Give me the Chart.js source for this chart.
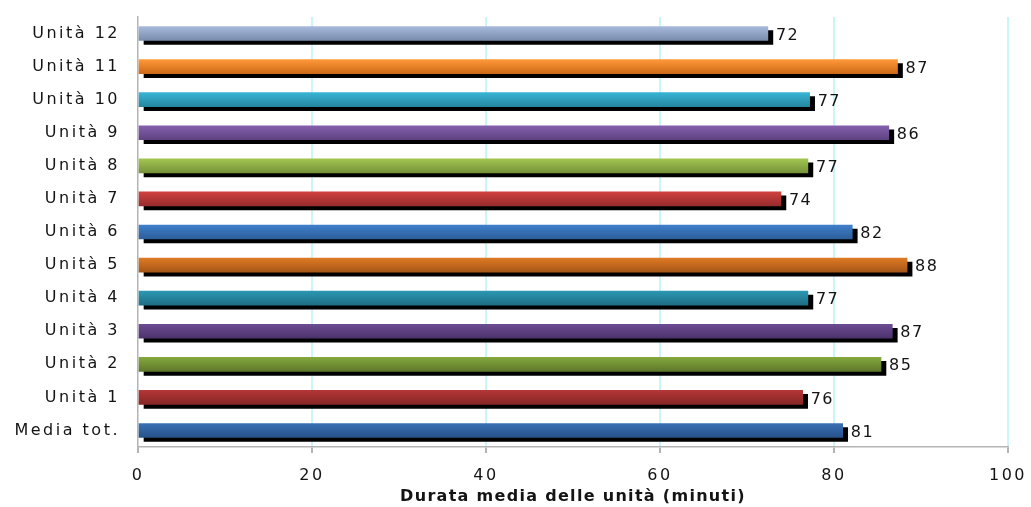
<!DOCTYPE html>
<html>
<head>
<meta charset="utf-8">
<title>Durata media delle unità</title>
<script src="https://cdn.jsdelivr.net/npm/chart.js@4.4.1/dist/chart.umd.min.js"></script>
<style>
  html, body { margin: 0; padding: 0; background: #fff; }
  canvas { display: block; }
</style>
</head>
<body>
<canvas id="mycanvas_durata" width="1031" height="507"></canvas>
<script>
// categories, bottom to top
var categorie = ['Media tot.', 'Unità 1', 'Unità 2', 'Unità 3', 'Unità 4', 'Unità 5', 'Unità 6',
                 'Unità 7', 'Unità 8', 'Unità 9', 'Unità 10', 'Unità 11', 'Unità 12'];
// average duration (minutes)
var durata = [81.0, 76.4, 85.4, 86.7, 77.0, 88.4, 82.1, 73.9, 77.0, 86.3, 77.2, 87.3, 72.4];
var tickAsseX = [0, 20, 40, 60, 80, 100];
var titoloAsseX = 'Durata media delle unità (minuti)';

// bar colours (top / bottom of gradient)
var coloriAlto  = ['#3a70b4', '#b43636', '#85a83e', '#6c4b92', '#2c97b2', '#de7a24', '#3e7fcb',
                   '#d04040', '#a2c650', '#8560ad', '#38b4d4', '#ff9838', '#a6b9dc'];
var coloriBasso = ['#27518a', '#862626', '#5e782a', '#4c336c', '#1e6d84', '#a65616', '#2d5e9a',
                   '#982c2c', '#76923a', '#5e4282', '#25869f', '#ce6a18', '#7a8cad'];

var font = "'DejaVu Sans', sans-serif";

var spaziatura = {
  id: 'spaziatura',
  beforeUpdate: function(chart) { chart.ctx.letterSpacing = '2.5px'; },
  beforeDraw: function(chart) { chart.ctx.letterSpacing = '2.5px'; }
};

var ombra = {
  id: 'ombra',
  beforeDatasetsDraw: function(chart) {
    var ctx = chart.ctx;
    ctx.save();
    ctx.shadowColor = '#000';
    ctx.shadowOffsetX = 5;
    ctx.shadowOffsetY = 4;
    ctx.shadowBlur = 0;
  },
  afterDatasetsDraw: function(chart) {
    chart.ctx.restore();
  }
};

var etichette = {
  id: 'etichette',
  afterDatasetsDraw: function(chart) {
    var ctx = chart.ctx;
    var meta = chart.getDatasetMeta(0);
    ctx.save();
    ctx.font = '16px ' + font;
    ctx.fillStyle = '#141414';
    ctx.textAlign = 'left';
    ctx.textBaseline = 'middle';
    ctx.letterSpacing = '1.5px';
    meta.data.forEach(function(bar, i) {
      ctx.fillText(Math.round(durata[i]), bar.x + 8, bar.y + 2);
    });
    ctx.restore();
  }
};

var titolo = {
  id: 'titolo',
  afterDraw: function(chart) {
    var ctx = chart.ctx;
    var a = chart.chartArea;
    ctx.save();
    ctx.font = 'bold 16px ' + font;
    ctx.fillStyle = '#141414';
    ctx.textAlign = 'center';
    ctx.textBaseline = 'middle';
    ctx.letterSpacing = '1.3px';
    ctx.fillText(titoloAsseX, (a.left + a.right) / 2, 497);
    ctx.restore();
  }
};

function gradiente(c) {
  var chart = c.chart;
  var i = c.dataIndex;
  if (!chart.chartArea || !chart.scales.y || i === undefined) return coloriAlto[i || 0];
  var y = chart.scales.y.getPixelForValue(i);
  var g = chart.ctx.createLinearGradient(0, y - 7, 0, y + 7);
  g.addColorStop(0, coloriAlto[i]);
  g.addColorStop(1, coloriBasso[i]);
  return g;
}

var ctx = document.getElementById('mycanvas_durata');

var barGraph = new Chart(ctx, {
  type: 'bar',
  data: {
    labels: categorie,
    datasets: [{
      data: durata,
      backgroundColor: gradiente,
      borderWidth: 0,
      barThickness: 14
    }]
  },
  options: {
    indexAxis: 'y',
    responsive: false,
    animation: false,
    events: [],
    layout: { padding: { top: 17, right: 23, left: 0, bottom: 0 } },
    plugins: {
      legend: { display: false },
      tooltip: { enabled: false }
    },
    scales: {
      x: {
        min: 0,
        max: 100,
        afterBuildTicks: function(scale) {
          scale.ticks = tickAsseX.map(function(v) { return { value: v }; });
        },
        afterFit: function(scale) {
          scale.height = 60;
          scale.paddingLeft = 0;
          scale.paddingRight = 0;
        },
        ticks: {
          color: '#141414',
          font: { family: font, size: 16 },
          padding: 13
        },
        grid: {
          color: function(c) { return c.tick && c.tick.value === 0 ? 'rgba(0,0,0,0)' : '#c8f6fa'; },
          lineWidth: 2,
          tickColor: '#b4b4b4',
          tickLength: 6,
          tickBorderDash: [],
          borderDash: [6, 4]
        },
        border: { display: true, color: '#b4b4b4', width: 1.5, dash: [] }
      },
      y: {
        reverse: true,
        afterFit: function(scale) {
          scale.width = 138;
          scale.paddingTop = 0;
          scale.paddingBottom = 0;
        },
        ticks: {
          color: '#141414',
          font: { family: font, size: 16 },
          padding: 18
        },
        grid: { drawOnChartArea: false, drawTicks: false },
        border: { display: true, color: '#b4b4b4', width: 1.5 }
      }
    }
  },
  plugins: [spaziatura, ombra, etichette, titolo]
});
</script>
</body>
</html>
